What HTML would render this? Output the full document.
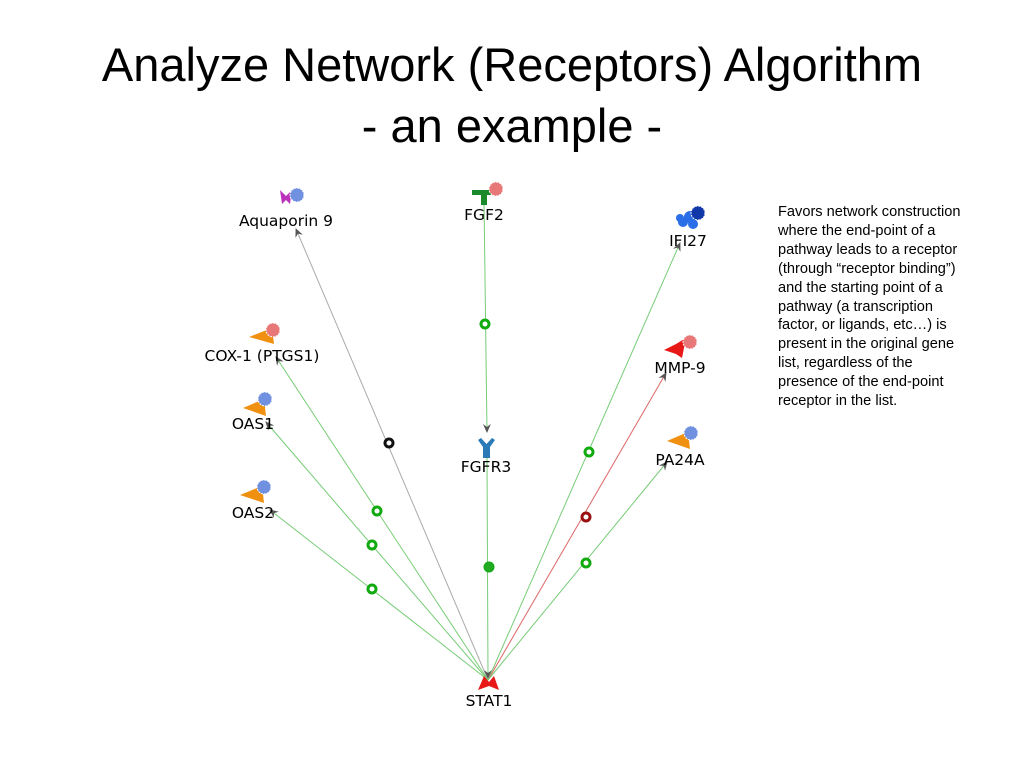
<!DOCTYPE html>
<html><head><meta charset="utf-8"><style>
html,body{margin:0;padding:0;background:#fff;width:1024px;height:768px;overflow:hidden}
.t{position:absolute;left:0;width:1024px;text-align:center;font-family:"Liberation Sans",sans-serif;font-size:47px;color:#000;line-height:54px}
.side{position:absolute;left:778px;top:203px;width:240px;font-family:"Liberation Sans",sans-serif;font-size:14.6px;line-height:18.9px;color:#000;white-space:nowrap}
</style></head><body>
<div class="t" style="top:38px">Analyze Network (Receptors) Algorithm</div>
<div class="t" style="top:99px">- an example -</div>
<div class="side">Favors network construction<br>where the end-point of a<br>pathway leads to a receptor<br>(through “receptor binding”)<br>and the starting point of a<br>pathway (a transcription<br>factor, or ligands, etc…) is<br>present in the original gene<br>list, regardless of the<br>presence of the end-point<br>receptor in the list.</div>
<svg width="1024" height="768" style="position:absolute;left:0;top:0" font-family="DejaVu Sans,sans-serif" font-size="15.5">
<defs>
<marker id="a" markerWidth="10" markerHeight="10" refX="8" refY="5" orient="auto" markerUnits="userSpaceOnUse"><path d="M0,1 L9,5 L0,9 L3,5 Z" fill="#555"/></marker>
</defs>
<g stroke-width="1" fill="none">
<line x1="488" y1="680" x2="296" y2="229" stroke="#aaa" marker-end="url(#a)"/>
<line x1="484" y1="200" x2="487" y2="432" stroke="#7c7" marker-end="url(#a)"/>
<line x1="487" y1="458" x2="488" y2="678" stroke="#7c7" marker-end="url(#a)"/>
<line x1="488" y1="680" x2="276" y2="357" stroke="#7c7" marker-end="url(#a)"/>
<line x1="488" y1="680" x2="266" y2="422" stroke="#7c7" marker-end="url(#a)"/>
<line x1="488" y1="680" x2="270" y2="510" stroke="#7c7" marker-end="url(#a)"/>
<line x1="488" y1="680" x2="680" y2="243" stroke="#7c7" marker-end="url(#a)"/>
<line x1="488" y1="680" x2="666" y2="373" stroke="#d66" marker-end="url(#a)"/>
<line x1="488" y1="680" x2="667" y2="462" stroke="#7c7" marker-end="url(#a)"/>
</g>
<g stroke-width="3">
<circle cx="389" cy="443" r="4" fill="#fff" stroke="#111"/>
<circle cx="485" cy="324" r="4" fill="#fff" stroke="#1a1"/>
<circle cx="489" cy="567" r="5" fill="#2a2" stroke="#1a1" stroke-width="1"/>
<circle cx="377" cy="511" r="4" fill="#fff" stroke="#1a1"/>
<circle cx="372" cy="545" r="4" fill="#fff" stroke="#1a1"/>
<circle cx="372" cy="589" r="4" fill="#fff" stroke="#1a1"/>
<circle cx="589" cy="452" r="4" fill="#fff" stroke="#1a1"/>
<circle cx="586" cy="517" r="4" fill="#fff" stroke="#911"/>
<circle cx="586" cy="563" r="4" fill="#fff" stroke="#1a1"/>
</g>
<path d="M280,190 L286,196 L292,190 L290,204 L286,200 L282,204 Z" fill="#b3b"/>
<circle cx="297" cy="195" r="7" fill="#7090e0" stroke="#fff" stroke-dasharray="2 1"/>
<text x="286" y="226" text-anchor="middle">Aquaporin 9</text>
<path d="M472,190 h24 v5 h-9 v10 h-6 v-10 h-9 Z" fill="#1a8a2a"/>
<circle cx="496" cy="189" r="7" fill="#e87878" stroke="#fff" stroke-dasharray="2 1"/>
<text x="484" y="220" text-anchor="middle">FGF2</text>
<circle cx="683" cy="222" r="5" fill="#2a6ee8"/><circle cx="690" cy="217" r="6" fill="#2a6ee8"/><circle cx="693" cy="224" r="5" fill="#2a6ee8"/><circle cx="680" cy="218" r="4" fill="#2a6ee8"/>
<circle cx="698" cy="213" r="7" fill="#1038a8" stroke="#fff" stroke-dasharray="2 1"/>
<text x="688" y="246" text-anchor="middle">IFI27</text>
<path d="M249,337 L272,328 L274,344 Z" fill="#f09010"/>
<circle cx="273" cy="330" r="7" fill="#e87878" stroke="#fff" stroke-dasharray="2 1"/>
<text x="262" y="361" text-anchor="middle">COX-1 (PTGS1)</text>
<path d="M243,408 L264,399 L266,416 Z" fill="#f09010"/>
<circle cx="265" cy="399" r="7" fill="#7090e0" stroke="#fff" stroke-dasharray="2 1"/>
<text x="253" y="429" text-anchor="middle">OAS1</text>
<path d="M240,495 L262,486 L264,503 Z" fill="#f09010"/>
<circle cx="264" cy="487" r="7" fill="#7090e0" stroke="#fff" stroke-dasharray="2 1"/>
<text x="253" y="518" text-anchor="middle">OAS2</text>
<path d="M664,350 L676,344 L686,338 L682,358 L676,354 Z" fill="#e81818"/>
<circle cx="690" cy="342" r="7" fill="#e87878" stroke="#fff" stroke-dasharray="2 1"/>
<text x="680" y="373" text-anchor="middle">MMP-9</text>
<path d="M478,440 L483,447 L483,458 L490,458 L490,447 L495,440 L492,438 L486.5,444 L481,438 Z" fill="#2a7ab8"/>
<text x="486" y="472" text-anchor="middle">FGFR3</text>
<path d="M667,441 L688,432 L690,449 Z" fill="#f09010"/>
<circle cx="691" cy="433" r="7" fill="#7090e0" stroke="#fff" stroke-dasharray="2 1"/>
<text x="680" y="465" text-anchor="middle">PA24A</text>
<path d="M478,690 L484,676 L489,682 L494,676 L499,690 L489,686 Z" fill="#e81818"/>
<text x="489" y="706" text-anchor="middle">STAT1</text>
</svg>
</body></html>
